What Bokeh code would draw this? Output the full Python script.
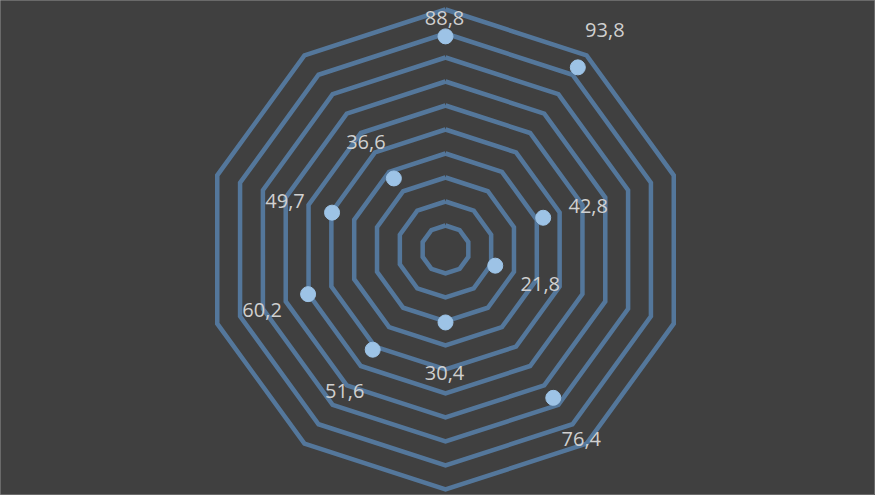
import numpy as np
from bokeh.plotting import figure
from bokeh.models import ColumnDataSource, Range1d
from bokeh.core.properties import value
from bokeh.embed import file_html
from bokeh.resources import INLINE

# Data (clockwise from top)
values = [88.8, 93.8, 42.8, 21.8, 76.4, 30.4, 51.6, 60.2, 49.7, 36.6]
labels = ["88,8", "93,8", "42,8", "21,8", "76,4", "30,4", "51,6", "60,2", "49,7", "36,6"]
ring_levels = [10, 20, 30, 40, 50, 60, 70, 80, 90, 100]

# label offsets in screen pixels (style)
lab_dx = [-1, 27, 45, 45, 28, -1, -28, -46, -47, -28]
lab_dy = [-18, -37, -12, 18, 41, 51, 41, 16, -12, -36]

n = len(values)
angles = np.pi / 2 - 2 * np.pi * np.arange(n) / n

W, H = 875, 495
cx, cy = 445, 249
scale = 2.4

p = figure(width=W, height=H, output_backend="svg", toolbar_location=None,
           x_range=Range1d(-cx / scale, (W - cx) / scale),
           y_range=Range1d(-(H - cy) / scale, cy / scale),
           min_border=0, background_fill_color="#404040",
           border_fill_color="#404040", outline_line_color="#6a6a6a")
p.axis.visible = False
p.grid.visible = False

xs_r, ys_r = [], []
for lvl in ring_levels:
    a = np.append(angles, angles[0])
    xs_r.append(list(lvl * np.cos(a)))
    ys_r.append(list(lvl * np.sin(a)))
p.multi_line(xs_r, ys_r, line_color="#557AA0", line_width=4.5, line_alpha=0.95,
             line_join="miter")

vx = np.array(values) * np.cos(angles)
vy = np.array(values) * np.sin(angles)
src = ColumnDataSource(dict(x=vx, y=vy, lab=labels, dx=lab_dx, dy=lab_dy))
p.scatter("x", "y", source=src, size=15, fill_color="#9DC3E6",
          line_color="#9DC3E6", line_width=1)
p.text("x", "y", text="lab", source=src, x_offset="dx", y_offset="dy",
       text_align="center", text_baseline="middle",
       text_font=value("Open Sans"), text_font_size="20px", text_color="#D0D0D0")

open("out.html", "w").write(file_html(p, INLINE))
